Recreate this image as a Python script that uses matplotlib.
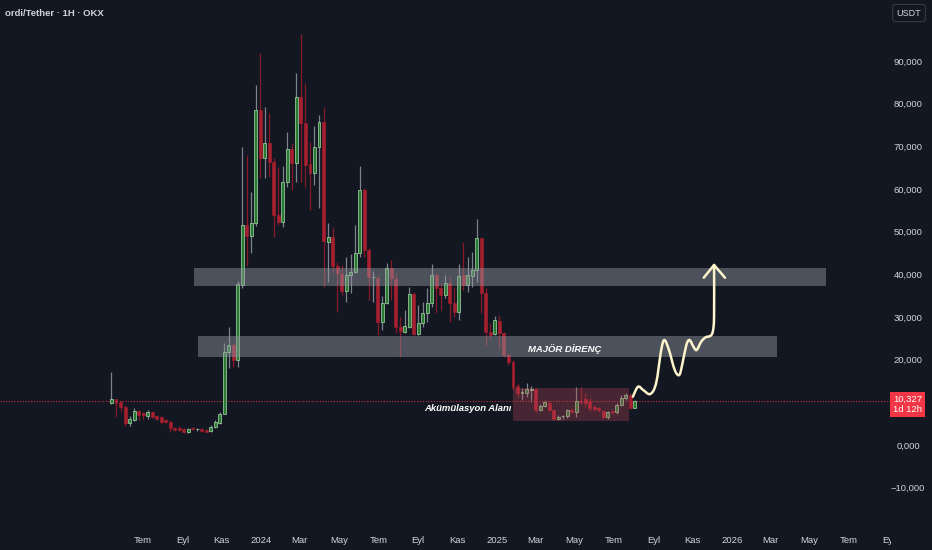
import matplotlib
matplotlib.use('Agg')
import matplotlib.pyplot as plt
import matplotlib.dates as mdates
from matplotlib.patches import Rectangle, PathPatch
from matplotlib.path import Path
from matplotlib.transforms import Bbox, TransformedBbox, blended_transform_factory
import numpy as np
import pandas as pd

# ---------------- data (weekly candles) ----------------
dates = pd.date_range('2023-05-14', periods=117, freq='7D')

opens = [9900, 10700, 10100, 9000, 5100, 5900, 8000, 7400, 6800, 7800,
         6800, 6500, 5800, 5500, 4100, 3900, 3700, 3050, 4100, 3700,
         3700, 3600, 3200, 4200, 5100, 7300, 21900, 23400, 19900, 37500,
         51500, 49000, 52100, 78500, 67200, 70700, 66400, 53900, 52300, 61700,
         69300, 66200, 81600, 75400, 65900, 63700, 69900, 75600, 47700, 48800,
         42000, 40100, 36200, 39800, 40600, 44900, 59800, 45700, 39300, 39200,
         28900, 33200, 41400, 38800, 27700, 26600, 27700, 35400, 26000, 28700,
         30900, 33400, 39800, 36700, 35100, 37900, 33200, 31200, 39800, 37500,
         39600, 41000, 48500, 35600, 26600, 26100, 29100, 26200, 21100, 19500,
         13800, 12300, 12100, 13000, 13100, 8200, 9100, 9900, 8200, 6100,
         6700, 6700, 8300, 7800, 10300, 10700, 10300, 8800, 8600, 8000,
         6600, 8000, 7700, 9400, 10900, 11700, 8700]
highs = [17200, 10800, 10300, 9300, 6800, 8600, 8200, 7800, 8100, 8000,
         7000, 6900, 6000, 5900, 4300, 4500, 3900, 3900, 4300, 3900,
         3900, 3800, 4700, 5900, 7700, 23800, 27700, 24000, 38500, 69800,
         68000, 59400, 84400, 91800, 79300, 77900, 67200, 64900, 65400, 73400,
         70700, 87100, 96300, 84800, 71100, 74800, 77400, 79300, 52000, 51200,
         43000, 42200, 44000, 44800, 51600, 65400, 60200, 46100, 40900, 39800,
         34900, 42700, 43400, 40400, 30100, 31600, 37100, 35900, 32800, 33600,
         36700, 42400, 40200, 37900, 39800, 39300, 37100, 42400, 47700, 44000,
         45300, 52900, 48600, 36700, 28500, 30300, 30500, 26500, 21500, 20000,
         14500, 13300, 14500, 13800, 13300, 9600, 10600, 10400, 8500, 7000,
         7100, 8500, 8700, 13500, 13500, 12300, 11000, 9300, 9000, 8300,
         8000, 8300, 9800, 11800, 12100, 12100, 10500]
lows = [9700, 6600, 7800, 4500, 4500, 5600, 5900, 6000, 6200, 6400,
        5800, 4900, 5200, 3100, 3300, 3200, 2900, 2900, 3500, 3200,
        3100, 3000, 3000, 3900, 4900, 7200, 18000, 18300, 18400, 36700,
        42000, 45000, 51300, 62500, 62500, 62900, 48800, 51500, 51200, 60400,
        59800, 61700, 61700, 60500, 55100, 60900, 55500, 37100, 38300, 40200,
        31200, 35200, 33600, 35600, 40400, 44100, 44000, 34000, 33600, 25800,
        27000, 33000, 34000, 26300, 20700, 26200, 27400, 25800, 25800, 27700,
        28900, 32400, 30900, 31600, 34400, 28900, 30100, 29300, 36300, 35900,
        37100, 38300, 30900, 23400, 24900, 25800, 22400, 20600, 18800, 13000,
        11300, 10500, 11300, 10100, 7800, 8000, 8900, 7900, 5900, 5800,
        6100, 6400, 7400, 6600, 9500, 8900, 8000, 7900, 7800, 6200,
        6200, 7300, 7200, 9100, 10500, 8400, 8600]
closes = [10700, 9900, 8800, 5100, 6200, 8000, 7000, 7000, 7800, 6600,
          6200, 5400, 5400, 3900, 3600, 3400, 3100, 3700, 3700, 3750,
          3300, 3100, 4300, 5400, 7300, 21900, 23400, 19900, 37700, 51600,
          49000, 52100, 78500, 67200, 70700, 66400, 53900, 52300, 61700, 69300,
          66200, 81600, 75400, 65600, 63700, 69900, 75600, 47900, 48800, 42000,
          40200, 36200, 39800, 40600, 44900, 59800, 45700, 39300, 39400, 28900,
          33200, 41400, 39100, 27700, 26800, 28000, 35400, 26000, 28700, 30900,
          33400, 39800, 36700, 35100, 37900, 33200, 31200, 39600, 37500, 39800,
          41000, 48500, 35600, 26600, 25800, 29200, 26200, 21100, 19500, 13700,
          12100, 12500, 13100, 13200, 8200, 9100, 10000, 8200, 6100, 6600,
          6800, 8200, 7800, 10300, 10100, 9800, 8600, 8400, 8200, 6500,
          7800, 7700, 9400, 10900, 11700, 8700, 10327]

last_price = closes[-1]

x_tick_dates = ['2023-07-01', '2023-09-01', '2023-11-01', '2024-01-01', '2024-03-01',
                '2024-05-01', '2024-07-01', '2024-09-01', '2024-11-01', '2025-01-01',
                '2025-03-01', '2025-05-01', '2025-07-01', '2025-09-01', '2025-11-01',
                '2026-01-01', '2026-03-01', '2026-05-01', '2026-07-01', '2026-09-01']
x_tick_labels = ['Tem', 'Eyl', 'Kas', '2024', 'Mar', 'May', 'Tem', 'Eyl', 'Kas', '2025',
                 'Mar', 'May', 'Tem', 'Eyl', 'Kas', '2026', 'Mar', 'May', 'Tem', 'Eyl']
# 10,000 is hidden behind the price tag in the reference
y_ticks = [-10000, 0, 20000, 30000, 40000, 50000, 60000, 70000, 80000, 90000]
y_tick_labels = ['\u221210,000', '0,000', '20,000', '30,000', '40,000',
                 '50,000', '60,000', '70,000', '80,000', '90,000']

# annotation zones (start, end, low, high)
zone_upper = ('2023-09-19', '2026-05-27', 37340, 41560)
zone_lower = ('2023-09-25', '2026-03-11', 20560, 25550)
zone_accum = ('2025-01-26', '2025-07-25', 5700, 13290)

# hand-drawn projection path
path_dates = ['2025-07-31', '2025-08-08', '2025-08-16', '2025-08-27', '2025-09-05',
              '2025-09-13', '2025-09-18', '2025-09-25', '2025-10-04', '2025-10-11',
              '2025-10-16', '2025-10-22', '2025-10-27', '2025-11-02', '2025-11-07',
              '2025-11-14', '2025-11-21', '2025-11-28', '2025-12-02', '2025-12-04',
              '2025-12-04']
path_prices = [11320, 13670, 12890, 11950, 14460, 22270, 24610, 22270, 17580, 16410,
               19150, 23440, 24610, 23040, 22270, 24210, 25250, 25550, 26560, 30070,
               42190]
head_dates = ['2025-11-18', '2025-12-04', '2025-12-21']
head_prices = [39210, 42190, 39210]

# ---------------- style ----------------
BG = '#131722'
TXT = '#d1d4dc'
UP_BODY = '#2b7a34'
UP_EDGE = '#a8d8ab'
UP_WICK = '#7c838c'
DN_BODY = '#a8202f'
DN_WICK = '#861b27'
FONT = ['Liberation Sans', 'DejaVu Sans']
plt.rcParams['font.family'] = FONT

W, H = 932, 550
fig = plt.figure(figsize=(W / 100, H / 100), dpi=100, facecolor=BG)
ax_right_px = 890
ax_bottom_px = 528
ax = fig.add_axes([0, (H - ax_bottom_px) / H, ax_right_px / W, ax_bottom_px / H])
ax.set_facecolor(BG)
for s in ax.spines.values():
    s.set_visible(False)

xd = mdates.date2num(dates)
o = np.array(opens, float)
h = np.array(highs, float)
l = np.array(lows, float)
c = np.array(closes, float)
up = c >= o

body_w = 4.6
ax.vlines(xd[up], l[up], h[up], color=UP_WICK, lw=0.9, zorder=2)
ax.vlines(xd[~up], l[~up], h[~up], color=DN_WICK, lw=0.9, zorder=2)
bot = np.minimum(o, c)
hgt = np.maximum(np.abs(c - o), 120)
ax.bar(xd[up], hgt[up], bottom=bot[up], width=body_w, color=UP_BODY,
       edgecolor=UP_EDGE, linewidth=0.5, zorder=3)
ax.bar(xd[~up], hgt[~up], bottom=bot[~up], width=body_w, color=DN_BODY,
       edgecolor=DN_BODY, linewidth=0.4, zorder=3)

def add_zone(z, fc, alpha):
    x0 = mdates.datestr2num(z[0])
    x1 = mdates.datestr2num(z[1])
    ax.add_patch(Rectangle((x0, z[2]), x1 - x0, z[3] - z[2], facecolor=fc,
                           edgecolor='none', alpha=alpha, zorder=4))

add_zone(zone_upper, '#9598a1', 0.45)
add_zone(zone_lower, '#9598a1', 0.45)
add_zone(zone_accum, '#c2485a', 0.30)

# last price dotted line
ax.axhline(last_price, color='#c8303d', lw=0.8, ls=(0, (1, 1.5)), zorder=2.5)

# projection path (Catmull-Rom as bezier)
px = mdates.datestr2num(path_dates)
pts = np.column_stack([px, np.array(path_prices, float)])
verts = [pts[0]]
codes = [Path.MOVETO]
n = len(pts)
for i in range(n - 1):
    p0 = pts[i - 1] if i > 0 else pts[i]
    p1 = pts[i]
    p2 = pts[i + 1]
    p3 = pts[i + 2] if i + 2 < n else pts[i + 1]
    verts += [p1 + (p2 - p0) / 6, p2 - (p3 - p1) / 6, p2]
    codes += [Path.CURVE4] * 3
ax.add_patch(PathPatch(Path(verts, codes), fill=False, edgecolor='#fff5cc', lw=1.8,
                       capstyle='round', joinstyle='round', zorder=6))
ax.plot(mdates.datestr2num(head_dates), head_prices, color='#fff5cc', lw=1.8,
        solid_capstyle='round', solid_joinstyle='round', zorder=6)

# labels
ax.text(mdates.datestr2num('2025-04-16'), 22430, 'MAJÖR DİRENÇ', color='white',
        fontsize=6.8, fontstyle='italic', fontweight='bold', ha='center', va='center', zorder=7)
ax.text(mdates.datestr2num('2025-01-24'), 8560, 'Akümülasyon Alanı', color='white',
        fontsize=6.8, fontstyle='italic', fontweight='bold', ha='right', va='center', zorder=7)

# axes limits
ax.set_xlim(mdates.datestr2num('2022-11-22'), mdates.datestr2num('2026-09-03'))
ax.set_ylim(-19455, 104308)

ax.set_xticks(mdates.datestr2num(x_tick_dates))
ax.set_xticklabels(x_tick_labels)
ax.tick_params(axis='x', length=0, pad=5.5, labelsize=6.8, labelcolor=TXT)
clipbox = TransformedBbox(Bbox([[0, 0], [891 / W, 1]]), fig.transFigure)
for lbl in ax.get_xticklabels():
    lbl.set_clip_box(clipbox)
    lbl.set_clip_on(True)

ax.yaxis.tick_right()
ax.set_yticks(y_ticks)
ax.set_yticklabels(y_tick_labels)
ax.tick_params(axis='y', length=0, pad=13, labelsize=6.8, labelcolor=TXT)
for lbl in ax.get_yticklabels():
    lbl.set_horizontalalignment('center')
ax.grid(False)

# price tag
btf = blended_transform_factory(fig.transFigure, ax.transData)
ax.annotate('10,327\n1d 12h', xy=(907.5 / W, last_price), xycoords=btf,
            xytext=(0, 4.5), textcoords='offset points', ha='center', va='top',
            fontsize=6.8, color='white', linespacing=1.2, annotation_clip=False,
            bbox=dict(boxstyle='square,pad=0.32', facecolor='#f23645', edgecolor='none'),
            zorder=10)

# title & currency box
fig.text(5 / W, 1 - 13 / H, 'ordi/Tether \u00b7 1H \u00b7 OKX', color=TXT, fontsize=6.8,
         fontweight='bold', ha='left', va='center')
fig.text(909 / W, 1 - 13 / H, 'USDT', color=TXT, fontsize=6.5, ha='center', va='center',
         bbox=dict(boxstyle='round,pad=0.45,rounding_size=0.3', facecolor=BG,
                   edgecolor='#363a45', linewidth=0.8))

fig.savefig('out.png', dpi=100, facecolor=BG)
